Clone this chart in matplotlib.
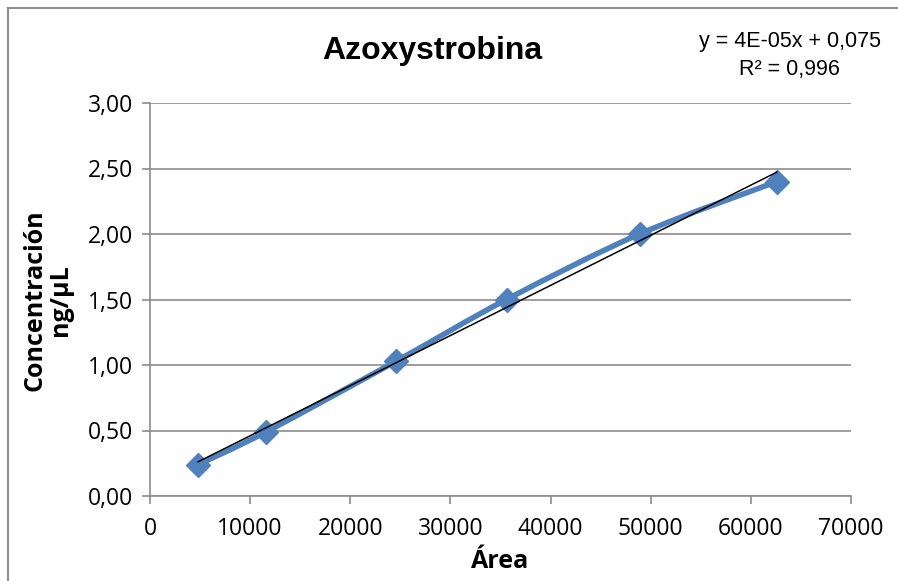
import numpy as np
import matplotlib
matplotlib.use("Agg")
import matplotlib.pyplot as plt
from matplotlib.path import Path
from matplotlib.patches import PathPatch
from matplotlib.ticker import FuncFormatter

area = [4800, 11600, 24600, 35600, 48900, 62600]
conc = [0.24, 0.49, 1.03, 1.50, 2.00, 2.40]
title = "Azoxystrobina"
eq_text = "y = 4E-05x + 0,075"
r2_text = "R² = 0,996"

blue = "#4F81BD"
grid_c = "#8C8C8C"

fig = plt.figure(figsize=(8.98, 5.81), dpi=100)
ax = fig.add_axes([150/898, 1-496/581, (851-150)/898, (496-103)/581])

x = np.array(area, float)
y = np.array(conc, float)

# smoothed line (Catmull-Rom -> cubic Bezier), like Excel's smoothed line
verts = [(x[0], y[0])]
codes = [Path.MOVETO]
n = len(x)
t = 1/6
for i in range(n-1):
    p0 = (x[max(i-1, 0)], y[max(i-1, 0)])
    p1 = (x[i], y[i])
    p2 = (x[i+1], y[i+1])
    p3 = (x[min(i+2, n-1)], y[min(i+2, n-1)])
    c1 = (p1[0] + (p2[0]-p0[0])*t, p1[1] + (p2[1]-p0[1])*t)
    c2 = (p2[0] - (p3[0]-p1[0])*t, p2[1] - (p3[1]-p1[1])*t)
    verts += [c1, c2, p2]
    codes += [Path.CURVE4]*3
ax.add_patch(PathPatch(Path(verts, codes), fill=False, edgecolor=blue, lw=4.0,
                       capstyle='round', joinstyle='round', zorder=3))
ax.plot(x, y, linestyle='none', marker='D', markersize=12.5, color=blue, zorder=4)

# linear trendline
m, b = np.polyfit(x, y, 1)
xt = np.array([x.min(), x.max()])
ax.plot(xt, m*xt + b, color='black', lw=1.1, zorder=5)

ax.set_xlim(0, 70000)
ax.set_ylim(0, 3.0)
ax.set_xticks(np.arange(0, 70001, 10000))
ax.set_yticks(np.arange(0, 3.01, 0.5))
ax.yaxis.set_major_formatter(FuncFormatter(lambda v, p: f"{v:.2f}".replace('.', ',')))
ax.xaxis.set_major_formatter(FuncFormatter(lambda v, p: f"{int(v)}"))
ax.grid(axis='y', color=grid_c, lw=1.2)
ax.set_axisbelow(True)
for s in ['top', 'right']:
    ax.spines[s].set_visible(False)
for s in ['left', 'bottom']:
    ax.spines[s].set_color(grid_c)
    ax.spines[s].set_linewidth(1.2)
ax.tick_params(axis='both', color=grid_c, length=6, width=1.2, labelsize=16.5,
               labelcolor='black')
ax.tick_params(axis='x', pad=9)
ax.tick_params(axis='y', pad=6)
for lab in ax.get_xticklabels() + ax.get_yticklabels():
    lab.set_family('Open Sans')

fig.text(500/898, 1-562/581, "Área", ha='center', va='center',
         family='Open Sans', fontweight='bold', fontsize=18)
fig.text(48/898, 1-300/581, "Concentración\nng/μL", rotation=90, ha='center', va='center',
         family='Open Sans', fontweight='bold', fontsize=18, linespacing=1.0)

fig.text(432.5/898, 1-51/581, title, ha='center', va='center', family='Liberation Sans',
         fontweight='bold', fontsize=23)
fig.text(790/898, 1-42/581, eq_text, ha='center', va='center', family='Liberation Sans',
         fontsize=15.5)
fig.text(789/898, 1-69/581, r2_text, ha='center', va='center', family='Liberation Sans',
         fontsize=15.5)

# chart area border (left and top visible)
fig.add_artist(plt.Line2D([8/898, 8/898], [0, 1-8/581], transform=fig.transFigure,
                          color='#8C8C8C', lw=1.5))
fig.add_artist(plt.Line2D([8/898, 1], [1-8/581, 1-8/581], transform=fig.transFigure,
                          color='#8C8C8C', lw=1.5))

fig.savefig("out.png", dpi=100)
